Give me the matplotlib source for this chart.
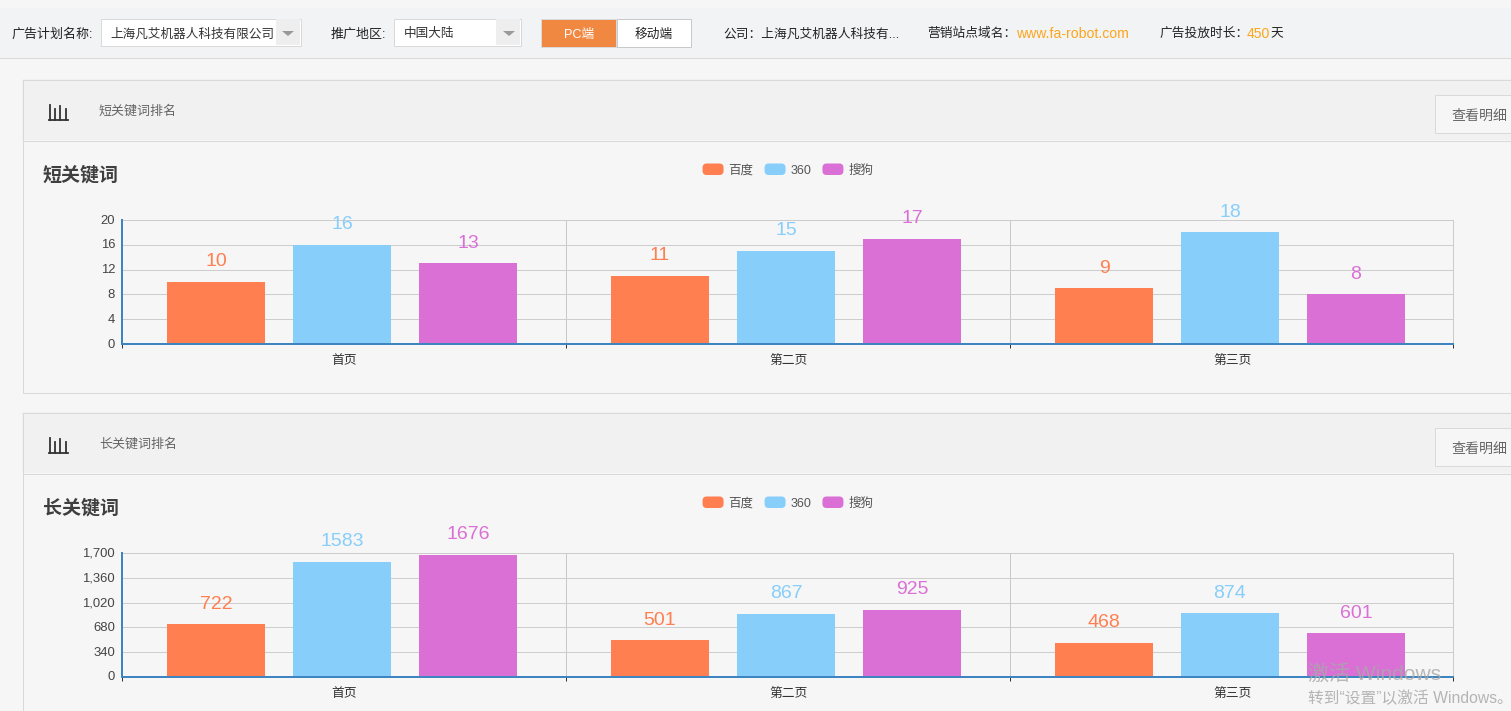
import matplotlib

matplotlib.use("Agg")
import matplotlib.pyplot as plt
from matplotlib.container import BarContainer
from matplotlib.legend_handler import HandlerPatch
from matplotlib.patches import FancyBboxPatch, Polygon, Rectangle
from matplotlib.ticker import FuncFormatter
from matplotlib.transforms import ScaledTranslation

plt.rcParams["font.family"] = ["Liberation Sans", "Noto Sans CJK SC", "DejaVu Sans"]

W, H = 1511, 711

pages = ["首页", "第二页", "第三页"]
series_names = ["百度", "360", "搜狗"]
series_colors = ["#ff7f50", "#87cefa", "#da70d6"]

short_values = [[10, 11, 9], [16, 15, 18], [13, 17, 8]]
short_ticks = [0, 4, 8, 12, 16, 20]
long_values = [[722, 501, 468], [1583, 867, 874], [1676, 925, 601]]
long_ticks = [0, 340, 680, 1020, 1360, 1700]

BORDER = "#d9d9d9"
AXIS_BLUE = "#3d85c0"
LINE = 0.72  # one pixel at dpi 100
WIDE_COLON = "\uff1a"


def px(size):
    # css pixels to points at dpi 100
    return size * 0.72


class RoundHandler(HandlerPatch):
    def create_artists(self, legend, orig_handle, xdescent, ydescent, width, height, fontsize, trans):
        patch = FancyBboxPatch(
            (-xdescent + 2, -ydescent + 2),
            width - 4,
            height - 4,
            boxstyle="round,pad=2,rounding_size=3",
            facecolor=orig_handle.patches[0].get_facecolor(),
            edgecolor="none",
            transform=trans,
        )
        return [patch]


fig = plt.figure(figsize=(W / 100, H / 100), dpi=100, facecolor="#f6f6f6")

# ------------------------------
# page chrome, drawn in pixel coordinates
bg = fig.add_axes([0, 0, 1, 1], zorder=0)
bg.set_xlim(0, W)
bg.set_ylim(H, 0)
bg.axis("off")


def rect(x, y, w, h, fc, ec="none", lw=LINE):
    bg.add_patch(Rectangle((x, y), w, h, facecolor=fc, edgecolor=ec, linewidth=lw))


def label(x, y, s, size=13, color="#222222", **kw):
    bg.text(x, y, s, fontsize=px(size), color=color, va="center", **kw)


rect(0, 8, W, 50, "#f2f3f5")
bg.plot([0, W], [57.5, 57.5], color=BORDER, lw=LINE)

label(12, 34.5, "广告计划名称:")
rect(100.5, 18.5, 200, 27, "white", BORDER)
rect(276, 19, 24, 26, "#eeeeee")
bg.add_patch(Polygon([[282, 31], [294, 31], [288, 36]], facecolor="#999999"))
label(110, 34, "上海凡艾机器人科技有限公司", size=12.6, color="#333333")

label(331, 34.5, "推广地区:")
rect(393.5, 18.5, 127, 27, "white", BORDER)
rect(496, 19, 24, 26, "#eeeeee")
bg.add_patch(Polygon([[503, 31], [515, 31], [509, 36]], facecolor="#999999"))
label(404, 34, "中国大陆", size=12.6, color="#333333")

rect(540.5, 18.5, 75, 28, "#f18842", BORDER)
rect(616.5, 18.5, 74, 28, "white", "#c9c9c9")
label(579, 35, "PC端", size=12.7, color="white", ha="center")
label(654, 35, "移动端", size=12.7, ha="center")

label(723, 34, "公司" + WIDE_COLON + "上海凡艾机器人科技有...", size=12.7)
label(927, 34, "营销站点域名" + WIDE_COLON, size=12.7)
label(1016, 34, "www.fa-robot.com", color="#fca61c", size=14)
label(1159, 34, "广告投放时长" + WIDE_COLON, size=12.7)
label(1247, 34, "450", color="#fca61c", size=14)
label(1270, 34, "天", size=12.7)

for top, panel_title, chart_title, bottom in [
    (80, "短关键词排名", "短关键词", 393),
    (413, "长关键词排名", "长关键词", 720),
]:
    rect(22, top - 1, W, 61, "#f1f1f1")
    rect(22.5, top - 0.5, W, bottom - top, "none", BORDER)
    bg.plot([23, W], [top + 60.5, top + 60.5], color=BORDER, lw=LINE)
    # little bar chart icon
    icon_y = top + 40
    bg.plot([49, 68], [icon_y, icon_y], color="#333333", lw=1.3)
    for bar_x, bar_h in [(50, 15), (55, 11), (60, 14), (66, 11)]:
        bg.plot([bar_x, bar_x], [icon_y, icon_y - bar_h], color="#333333", lw=1.3)
    label(99, top + 32, panel_title, color="#666666")
    rect(1434.5, top + 14.5, 90, 38, "#f6f6f6", BORDER)
    label(1451, top + 36, "查看明细", size=14, color="#666666")
    bg.text(42.5, top + 95, chart_title, fontsize=px(19), color="#3f3f3f",
            fontweight="bold", va="center")


# ------------------------------
# charts
def plot_chart(values, ticks, top_px):
    left, right, bottom_px = 122, 1453, top_px + 124
    ax = fig.add_axes(
        [left / W, 1 - bottom_px / H, (right - left) / W, (bottom_px - top_px) / H],
        zorder=1,
    )
    ax.patch.set_alpha(0)
    unit = 444  # pixels per category
    x_max = -0.5 + (right - left) / unit
    width = 98 / unit
    step = 126 / unit
    nudge = -2 / unit  # bars sit slightly left of the category centre
    for i, (vals, name, color) in enumerate(zip(values, series_names, series_colors)):
        xs = [j + (i - 1) * step + nudge for j in range(len(pages))]
        bars = ax.bar(xs, vals, width=width, color=color, label=name, zorder=3)
        for bar, val in zip(bars, vals):
            ax.annotate(
                str(val),
                xy=(bar.get_x() + bar.get_width() / 2, val),
                xytext=(0, 8.3),
                textcoords="offset points",
                ha="center",
                va="bottom",
                color=color,
                fontsize=px(19.5),
                annotation_clip=False,
                zorder=4,
            )

    ax.set_xlim(-0.5, x_max)
    ax.set_ylim(ticks[0], ticks[-1])
    ax.set_yticks(ticks)
    ax.yaxis.set_major_formatter(FuncFormatter(lambda v, _: f"{v:,.0f}"))
    ax.set_xticks([-0.5, 0.5, 1.5, x_max])
    ax.set_xticklabels([])
    ax.set_xticks([0, 1, 2], pages, minor=True)
    ax.grid(axis="y", color="#cdcdcd", lw=LINE, zorder=1)
    ax.grid(axis="x", which="major", color="#c8c8c8", lw=LINE, zorder=1)
    ax.tick_params(axis="y", length=0, pad=5, labelsize=px(13), labelcolor="#444444")
    ax.tick_params(axis="x", which="major", length=3, width=LINE, color="#333333")
    ax.tick_params(axis="x", which="minor", length=0, pad=8, labelsize=px(12.8), labelcolor="#333333")
    up = ScaledTranslation(0, 1 / 100, fig.dpi_scale_trans)
    for tick_label in ax.get_yticklabels():
        tick_label.set_transform(tick_label.get_transform() + up)

    for side in ["top", "right"]:
        ax.spines[side].set_color("#cccccc")
        ax.spines[side].set_linewidth(LINE)
    for side in ["left", "bottom"]:
        ax.spines[side].set_color(AXIS_BLUE)
        ax.spines[side].set_linewidth(1.44)
        ax.spines[side].set_zorder(5)

    ax.legend(
        loc="center",
        bbox_to_anchor=((788 - left) / (right - left), 1 + 50 / 124),
        ncol=3,
        frameon=False,
        fontsize=px(12.5),
        labelcolor="#555555",
        handlelength=1.68,
        handleheight=1.04,
        handletextpad=0.4,
        columnspacing=0.88,
        borderpad=0,
        handler_map={BarContainer: RoundHandler()},
    )
    return ax


plot_chart(short_values, short_ticks, 220)
plot_chart(long_values, long_ticks, 553)

# activation watermark sits over everything
fig.text(1308 / W, 1 - 674 / H, "激活 Windows", fontsize=px(21), color="#a8a8a8",
         alpha=0.8, va="center", zorder=5)
fig.text(1308 / W, 1 - 698 / H, "转到“设置”以激活 Windows。", fontsize=px(15.7), color="#b4b4b4",
         va="center", zorder=5)

fig.savefig("out.png", dpi=100, facecolor=fig.get_facecolor())
